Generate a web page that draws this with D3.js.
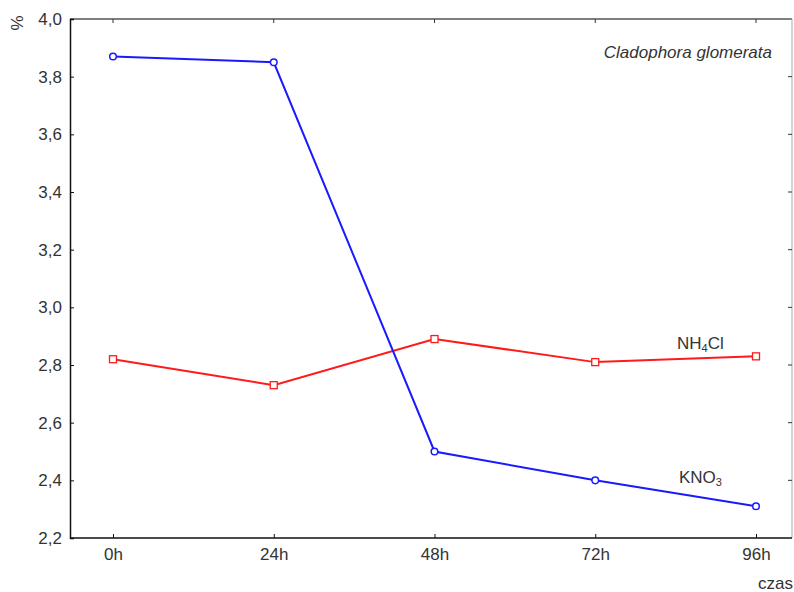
<!DOCTYPE html>
<html>
<head>
<meta charset="utf-8">
<script src="https://cdn.jsdelivr.net/npm/d3@7"></script>
<style>
  html, body { margin: 0; padding: 0; background: #fff; }
  svg { display: block; font-family: "Liberation Sans", Arial, sans-serif; }
</style>
</head>
<body>
<svg id="chart" width="794" height="592"></svg>
<script>
// Sampling times and measured content (%)
const times = ["0h", "24h", "48h", "72h", "96h"];
const kno3 = [3.87, 3.85, 2.50, 2.40, 2.31];
const nh4cl = [2.82, 2.73, 2.89, 2.81, 2.83];
const yTicks = [2.2, 2.4, 2.6, 2.8, 3.0, 3.2, 3.4, 3.6, 3.8, 4.0];

const svg = d3.select("#chart");
const frame = { left: 70, right: 792, top: 19, bottom: 538 };

const x = d3.scaleLinear().domain([0, times.length - 1]).range([113, 756]);
const y = d3.scaleLinear().domain([2.2, 4.0]).range([frame.bottom, frame.top]);

const fmt = v => d3.format(".1f")(v).replace(".", ",");
const textColor = "#333";
const fs = 17;

// Frame
svg.append("line").attr("x1", frame.left).attr("x2", frame.right)
  .attr("y1", frame.top).attr("y2", frame.top).attr("stroke", "#555").attr("stroke-width", 1.5);
svg.append("line").attr("x1", frame.right).attr("x2", frame.right)
  .attr("y1", frame.top).attr("y2", frame.bottom).attr("stroke", "#aaa").attr("stroke-width", 1);

// Left axis (ticks point inward)
const yAxis = d3.axisLeft(y).tickValues(yTicks).tickSize(-4).tickPadding(8).tickFormat(fmt);
const gy = svg.append("g").attr("transform", `translate(${frame.left},0)`).call(yAxis);
gy.select(".domain").attr("stroke", "#111").attr("stroke-width", 1.5);
gy.selectAll(".tick line").attr("stroke", "#111");
gy.selectAll(".tick text").attr("font-size", fs).attr("fill", textColor)
  .attr("font-family", "Liberation Sans, Arial, sans-serif");

// Right side ticks
svg.append("g").selectAll("line").data(yTicks.slice(1, -1)).join("line")
  .attr("x1", frame.right - 4).attr("x2", frame.right)
  .attr("y1", d => y(d)).attr("y2", d => y(d)).attr("stroke", "#333");

// Bottom axis (ticks point inward)
const xAxis = d3.axisBottom(x).tickValues(d3.range(times.length)).tickSize(-4).tickPadding(10)
  .tickFormat(i => times[i]);
const gx = svg.append("g").attr("transform", `translate(0,${frame.bottom})`).call(xAxis);
gx.select(".domain").attr("d", `M${frame.left},0H${frame.right}`).attr("stroke", "#111").attr("stroke-width", 1.5);
gx.selectAll(".tick line").attr("stroke", "#111");
gx.selectAll(".tick text").attr("font-size", fs).attr("fill", textColor)
  .attr("font-family", "Liberation Sans, Arial, sans-serif");

// Top ticks
svg.append("g").selectAll("line").data(d3.range(times.length)).join("line")
  .attr("x1", d => x(d)).attr("x2", d => x(d))
  .attr("y1", frame.top).attr("y2", frame.top + 4).attr("stroke", "#333");

// Axis titles
svg.append("text").attr("transform", "translate(23,23) rotate(-90)")
  .attr("text-anchor", "middle").attr("font-size", fs).attr("fill", textColor).text("%");
svg.append("text").attr("x", 793).attr("y", 589).attr("text-anchor", "end")
  .attr("font-size", fs).attr("fill", textColor).text("czas");

// Species name
svg.append("text").attr("x", 772).attr("y", 58).attr("text-anchor", "end")
  .attr("font-size", fs).attr("font-style", "italic").attr("fill", textColor)
  .text("Cladophora glomerata");

// Series
const line = d3.line().x((d, i) => x(i)).y(d => y(d));

svg.append("path").datum(nh4cl).attr("d", line)
  .attr("fill", "none").attr("stroke", "#ff1a1a").attr("stroke-width", 2);
svg.append("path").datum(kno3).attr("d", line)
  .attr("fill", "none").attr("stroke", "#1a1aff").attr("stroke-width", 2);

svg.append("g").selectAll("rect").data(nh4cl).join("rect")
  .attr("x", (d, i) => x(i) - 3.5).attr("y", d => y(d) - 3.5)
  .attr("width", 7).attr("height", 7)
  .attr("fill", "#fff").attr("stroke", "#ff1a1a").attr("stroke-width", 1.3);
svg.append("g").selectAll("circle").data(kno3).join("circle")
  .attr("cx", (d, i) => x(i)).attr("cy", d => y(d)).attr("r", 3.3)
  .attr("fill", "#fff").attr("stroke", "#1a1aff").attr("stroke-width", 1.5);

// Series labels
const nh = svg.append("text").attr("x", 677).attr("y", 349)
  .attr("font-size", fs).attr("fill", textColor);
nh.append("tspan").text("NH");
nh.append("tspan").attr("font-size", 11).attr("dy", 3).text("4");
nh.append("tspan").attr("dy", -3).text("Cl");

const kn = svg.append("text").attr("x", 679).attr("y", 483)
  .attr("font-size", fs).attr("fill", textColor);
kn.append("tspan").text("KNO");
kn.append("tspan").attr("font-size", 11).attr("dy", 3).text("3");
</script>
</body>
</html>
